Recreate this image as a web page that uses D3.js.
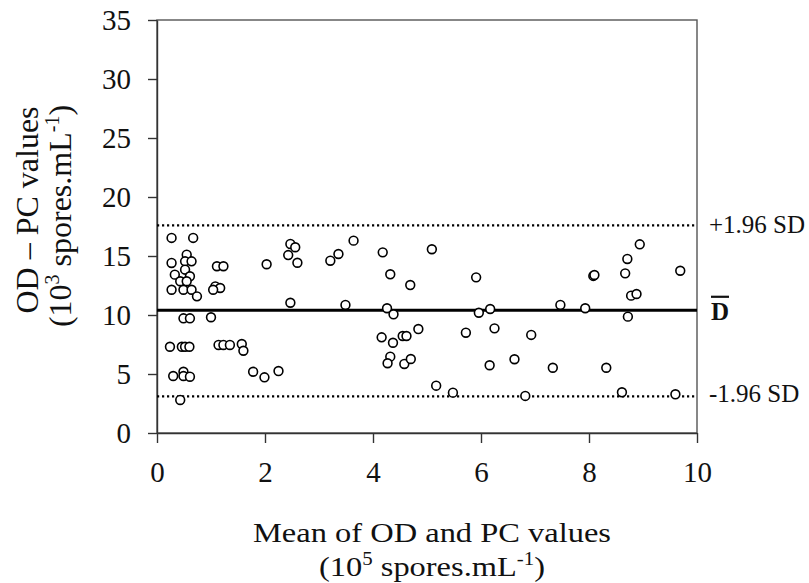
<!DOCTYPE html>
<html><head><meta charset="utf-8">
<script src="https://cdn.jsdelivr.net/npm/d3@7"></script>
<style>body{margin:0;background:#fff}svg{display:block}</style>
</head><body><svg id="c" width="809" height="583"></svg>
<script>
const meanX = [0.27,0.67,0.55,0.27,0.52,0.64,0.33,0.52,0.61,0.43,0.55,0.27,0.49,0.64,0.74,1.11,1.23,1.08,1.17,1.04,2.03,
0.49,0.61,1.00,0.24,0.46,0.52,0.60,1.14,1.23,1.35,1.57,1.60,0.30,0.49,0.49,0.61,1.78,1.99,2.25,0.43,
2.47,2.56,2.43,2.60,3.21,3.36,3.64,4.18,4.32,4.69,5.09,2.47,3.49,4.26,4.38,4.84,4.16,4.37,4.55,4.62,4.32,4.27,4.58,4.70,5.17,
5.91,5.96,6.17,7.47,5.72,6.25,6.93,6.16,6.62,7.33,5.48,6.82,
8.94,8.71,8.08,8.10,8.67,9.69,8.78,8.88,7.93,8.72,8.32,8.61,9.60];
const diffY = [16.53,16.53,15.11,14.41,14.55,14.55,13.42,13.84,13.28,12.86,12.86,12.14,12.14,12.14,11.58,14.13,14.13,12.43,12.29,12.14,14.30,
9.72,9.72,9.81,7.31,7.31,7.31,7.31,7.46,7.46,7.46,7.54,6.97,4.83,5.19,4.83,4.77,5.19,4.72,5.25,2.80,
16.02,15.74,15.08,14.43,14.60,15.17,16.30,15.31,13.45,12.54,15.57,11.04,10.85,10.57,10.06,8.81,8.11,7.65,8.22,8.22,6.47,5.91,5.85,6.27,4.01,
13.19,10.19,10.51,10.85,8.50,8.87,8.31,5.74,6.25,5.53,3.42,3.14,
15.99,14.75,13.31,13.39,13.53,13.75,11.64,11.78,10.57,9.86,5.53,3.45,3.28];
const meanDiff = 10.4, upperLoA = 17.6, lowerLoA = 3.1;
const xTicks = [0,2,4,6,8,10];
const yTicks = [0,5,10,15,20,25,30,35];

const svg = d3.select("#c");
const L=157,R=697,T=20,B=433;
const x = d3.scaleLinear().domain([0,10]).range([L,R]);
const y = d3.scaleLinear().domain([0,35]).range([B,T]);
const font = "'Liberation Serif','Times New Roman',serif";

// frame
svg.append("rect").attr("x",L).attr("y",T).attr("width",R-L).attr("height",B-T)
  .attr("fill","none").attr("stroke","#555").attr("stroke-width",1.4);

const gx = svg.append("g").attr("transform",`translate(0,${B})`)
  .call(d3.axisBottom(x).tickValues(xTicks).tickSize(10).tickSizeOuter(0).tickPadding(18));
const gy = svg.append("g").attr("transform",`translate(${L},0)`)
  .call(d3.axisLeft(y).tickValues(yTicks).tickSize(9).tickSizeOuter(0).tickPadding(17));
[gx,gy].forEach(g=>{
  g.selectAll("path").attr("stroke","#333").attr("stroke-width",1.4);
  g.selectAll("line").attr("stroke","#333").attr("stroke-width",1.4);
  g.selectAll("text").attr("font-family",font).attr("font-size",29).attr("fill","#111");
});

// reference lines
svg.append("line").attr("x1",L).attr("x2",R).attr("y1",y(meanDiff)).attr("y2",y(meanDiff))
  .attr("stroke","#000").attr("stroke-width",3);
[upperLoA,lowerLoA].forEach(v=>{
  svg.append("line").attr("x1",L).attr("x2",R).attr("y1",y(v)).attr("y2",y(v))
    .attr("stroke","#000").attr("stroke-width",2.2).attr("stroke-dasharray","2.2,2.8");
});

// points
svg.append("g").selectAll("circle").data(meanX.map((d,i)=>[d,diffY[i]])).join("circle")
  .attr("cx",d=>x(d[0])).attr("cy",d=>y(d[1])).attr("r",4.4)
  .attr("fill","#fff").attr("stroke","#000").attr("stroke-width",1.6);

// right labels
svg.append("text").attr("x",709).attr("y",y(upperLoA)+8).attr("font-family",font).attr("font-size",25)
  .attr("fill","#111").text("+1.96 SD");
svg.append("text").attr("x",709).attr("y",y(lowerLoA)+6).attr("font-family",font).attr("font-size",25)
  .attr("fill","#111").text("-1.96 SD");
svg.append("text").attr("x",711).attr("y",y(meanDiff)+10).attr("font-family",font).attr("font-size",25)
  .attr("font-weight","bold").attr("fill","#111").text("D");
svg.append("line").attr("x1",711).attr("x2",729).attr("y1",y(meanDiff)-13.5).attr("y2",y(meanDiff)-13.5)
  .attr("stroke","#111").attr("stroke-width",2.2);

// x title
svg.append("text").attr("x",432).attr("y",542).attr("text-anchor","middle").attr("font-family",font)
  .attr("font-size",28).attr("textLength",358).attr("lengthAdjust","spacingAndGlyphs")
  .attr("fill","#111").text("Mean of OD and PC values");
const tx2 = svg.append("text").attr("x",432).attr("y",576).attr("text-anchor","middle").attr("font-family",font)
  .attr("font-size",28).attr("textLength",226).attr("lengthAdjust","spacingAndGlyphs").attr("fill","#111");
tx2.append("tspan").text("(10");
tx2.append("tspan").attr("font-size",18).attr("dy",-11).text("5");
tx2.append("tspan").attr("dy",11).text(" spores.mL");
tx2.append("tspan").attr("font-size",18).attr("dy",-11).text("-1");
tx2.append("tspan").attr("dy",11).text(")");

// y title
svg.append("text").attr("transform","translate(38,210) rotate(-90)").attr("text-anchor","middle")
  .attr("font-family",font).attr("font-size",32).attr("fill","#111").text("OD \u2013 PC values");
const ty2 = svg.append("text").attr("transform","translate(71,216) rotate(-90)").attr("text-anchor","middle")
  .attr("font-family",font).attr("font-size",32).attr("fill","#111");
ty2.append("tspan").text("(10");
ty2.append("tspan").attr("font-size",20).attr("dy",-12).text("3");
ty2.append("tspan").attr("dy",12).text(" spores.mL");
ty2.append("tspan").attr("font-size",20).attr("dy",-12).text("-1");
ty2.append("tspan").attr("dy",12).text(")");
</script></body></html>
